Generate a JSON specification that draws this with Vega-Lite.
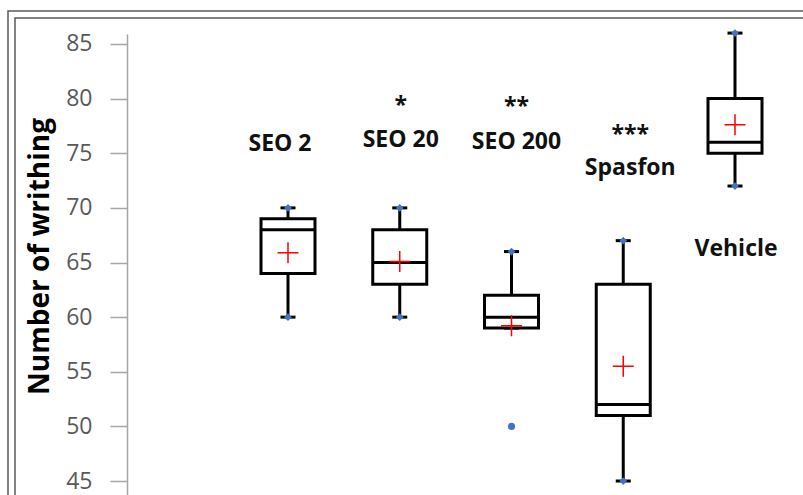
{
  "$schema": "https://vega.github.io/schema/vega-lite/v6.json",
  "width": 676,
  "height": 461,
  "autosize": {"type": "none"},
  "padding": {"left": 127, "top": 34, "right": 0, "bottom": 0},
  "background": "white",
  "config": {
    "view": {"stroke": null},
    "font": "Open Sans",
    "axisY": {
      "domainColor": "#a6a6a6",
      "domainWidth": 1.5,
      "tickColor": "#a6a6a6",
      "tickWidth": 1.5,
      "tickSize": 17,
      "grid": false,
      "labelFont": "Open Sans",
      "labelFontSize": 23,
      "labelColor": "#595959",
      "labelPadding": 18,
      "titleFont": "Open Sans",
      "titleFontSize": 28,
      "titleFontWeight": "bold",
      "titleColor": "#000000",
      "titlePadding": 11,
      "titleY": 222
    }
  },
  "datasets": {
    "frame": [{"f": 1}],
    "boxes": [
      {"group": "SEO 2", "lo": 60, "q1": 64, "med": 68, "q3": 69, "hi": 70, "mean": 65.9},
      {"group": "SEO 20", "lo": 60, "q1": 63, "med": 65, "q3": 68, "hi": 70, "mean": 65.1},
      {"group": "SEO 200", "lo": 59, "q1": 59, "med": 60, "q3": 62, "hi": 66, "mean": 59.2},
      {"group": "Spasfon", "lo": 45, "q1": 51, "med": 52, "q3": 63, "hi": 67, "mean": 55.5},
      {"group": "Vehicle", "lo": 72, "q1": 75, "med": 76, "q3": 80, "hi": 86, "mean": 77.6}
    ],
    "ends": [
      {"group": "SEO 2", "value": 60},
      {"group": "SEO 2", "value": 70},
      {"group": "SEO 20", "value": 60},
      {"group": "SEO 20", "value": 70},
      {"group": "SEO 200", "value": 66},
      {"group": "Spasfon", "value": 45},
      {"group": "Spasfon", "value": 67},
      {"group": "Vehicle", "value": 72},
      {"group": "Vehicle", "value": 86}
    ],
    "outliers": [
      {"group": "SEO 200", "value": 50}
    ],
    "labels": [
      {"group": "SEO 2", "text": "SEO 2", "y": 75.23, "shift": "left"},
      {"group": "SEO 20", "text": "SEO 20", "y": 75.54, "shift": "none"},
      {"group": "SEO 200", "text": "SEO 200", "y": 75.4, "shift": "small"},
      {"group": "Spasfon", "text": "Spasfon", "y": 73.0, "shift": "right"},
      {"group": "Vehicle", "text": "Vehicle", "y": 65.6, "shift": "none"},
      {"group": "SEO 20", "text": "*", "y": 78.68, "shift": "none"},
      {"group": "SEO 200", "text": "**", "y": 78.6, "shift": "small"},
      {"group": "Spasfon", "text": "***", "y": 76.06, "shift": "right"}
    ]
  },
  "layer": [
    {
      "data": {"name": "boxes"},
      "mark": {"type": "rule", "color": "#000000", "strokeWidth": 3},
      "encoding": {
        "x": {
          "field": "group",
          "type": "nominal",
          "scale": {"type": "point", "domain": ["SEO 2", "SEO 20", "SEO 200", "Spasfon", "Vehicle"], "range": [161, 608], "padding": 0},
          "axis": null
        },
        "y": {
          "field": "lo",
          "type": "quantitative",
          "scale": {"domain": [43.72, 85.915], "zero": false, "nice": false},
          "axis": {"values": [45, 50, 55, 60, 65, 70, 75, 80, 85], "offset": 0},
          "title": "Number of writhing"
        },
        "y2": {"field": "hi"}
      }
    },
    {
      "data": {"name": "frame"},
      "mark": {"type": "rect", "fill": "transparent", "stroke": "#5a5a5a", "strokeWidth": 1.5, "xOffset": -119, "yOffset": -23, "x2Offset": 200, "y2Offset": 200},
      "encoding": {
        "x": {"value": 0},
        "x2": {"value": "width"},
        "y": {"value": 0},
        "y2": {"value": "height"}
      }
    },
    {
      "data": {"name": "frame"},
      "mark": {"type": "rect", "fill": "transparent", "stroke": "#5a5a5a", "strokeWidth": 1.5, "xOffset": -112, "yOffset": -16, "x2Offset": 200, "y2Offset": 200},
      "encoding": {
        "x": {"value": 0},
        "x2": {"value": "width"},
        "y": {"value": 0},
        "y2": {"value": "height"}
      }
    },
    {
      "data": {"name": "boxes"},
      "mark": {"type": "tick", "orient": "horizontal", "color": "#000000", "size": 15, "thickness": 3, "opacity": 1},
      "encoding": {
        "x": {"field": "group", "type": "nominal"},
        "y": {"field": "lo", "type": "quantitative", "title": "Number of writhing"}
      }
    },
    {
      "data": {"name": "boxes"},
      "mark": {"type": "tick", "orient": "horizontal", "color": "#000000", "size": 15, "thickness": 3, "opacity": 1},
      "encoding": {
        "x": {"field": "group", "type": "nominal"},
        "y": {"field": "hi", "type": "quantitative", "title": "Number of writhing"}
      }
    },
    {
      "data": {"name": "boxes"},
      "mark": {"type": "bar", "orient": "vertical", "size": 54, "fill": "#ffffff", "stroke": "#000000", "strokeWidth": 3},
      "encoding": {
        "x": {"field": "group", "type": "nominal"},
        "y": {"field": "q1", "type": "quantitative", "title": "Number of writhing"},
        "y2": {"field": "q3"}
      }
    },
    {
      "data": {"name": "boxes"},
      "mark": {"type": "tick", "orient": "horizontal", "color": "#000000", "size": 54, "thickness": 3, "opacity": 1},
      "encoding": {
        "x": {"field": "group", "type": "nominal"},
        "y": {"field": "med", "type": "quantitative", "title": "Number of writhing"}
      }
    },
    {
      "data": {"name": "boxes"},
      "mark": {"type": "point", "shape": "M-1,0H1M0,-1V1", "filled": false, "stroke": "#ff0000", "strokeWidth": 1.5, "size": 441, "opacity": 1},
      "encoding": {
        "x": {"field": "group", "type": "nominal"},
        "y": {"field": "mean", "type": "quantitative", "title": "Number of writhing"}
      }
    },
    {
      "data": {"name": "ends"},
      "mark": {"type": "point", "shape": "diamond", "filled": true, "fill": "#4472c4", "strokeWidth": 0, "size": 60, "opacity": 1},
      "encoding": {
        "x": {"field": "group", "type": "nominal"},
        "y": {"field": "value", "type": "quantitative", "title": "Number of writhing"}
      }
    },
    {
      "data": {"name": "outliers"},
      "mark": {"type": "point", "shape": "circle", "filled": true, "fill": "#4472c4", "strokeWidth": 0, "size": 50, "opacity": 1},
      "encoding": {
        "x": {"field": "group", "type": "nominal"},
        "y": {"field": "value", "type": "quantitative", "title": "Number of writhing"}
      }
    },
    {
      "data": {"name": "labels"},
      "transform": [{"filter": "datum.shift === 'none'"}],
      "mark": {"type": "text", "font": "Open Sans", "fontWeight": "bold", "fontSize": 23, "color": "#111111", "align": "center", "baseline": "alphabetic", "dx": 1},
      "encoding": {
        "x": {"field": "group", "type": "nominal"},
        "y": {"field": "y", "type": "quantitative", "title": "Number of writhing"},
        "text": {"field": "text"}
      }
    },
    {
      "data": {"name": "labels"},
      "transform": [{"filter": "datum.shift === 'left'"}],
      "mark": {"type": "text", "font": "Open Sans", "fontWeight": "bold", "fontSize": 23, "color": "#111111", "align": "center", "baseline": "alphabetic", "dx": -8},
      "encoding": {
        "x": {"field": "group", "type": "nominal"},
        "y": {"field": "y", "type": "quantitative", "title": "Number of writhing"},
        "text": {"field": "text"}
      }
    },
    {
      "data": {"name": "labels"},
      "transform": [{"filter": "datum.shift === 'small'"}],
      "mark": {"type": "text", "font": "Open Sans", "fontWeight": "bold", "fontSize": 23, "color": "#111111", "align": "center", "baseline": "alphabetic", "dx": 5},
      "encoding": {
        "x": {"field": "group", "type": "nominal"},
        "y": {"field": "y", "type": "quantitative", "title": "Number of writhing"},
        "text": {"field": "text"}
      }
    },
    {
      "data": {"name": "labels"},
      "transform": [{"filter": "datum.shift === 'right'"}],
      "mark": {"type": "text", "font": "Open Sans", "fontWeight": "bold", "fontSize": 23, "color": "#111111", "align": "center", "baseline": "alphabetic", "dx": 7},
      "encoding": {
        "x": {"field": "group", "type": "nominal"},
        "y": {"field": "y", "type": "quantitative", "title": "Number of writhing"},
        "text": {"field": "text"}
      }
    }
  ]
}
